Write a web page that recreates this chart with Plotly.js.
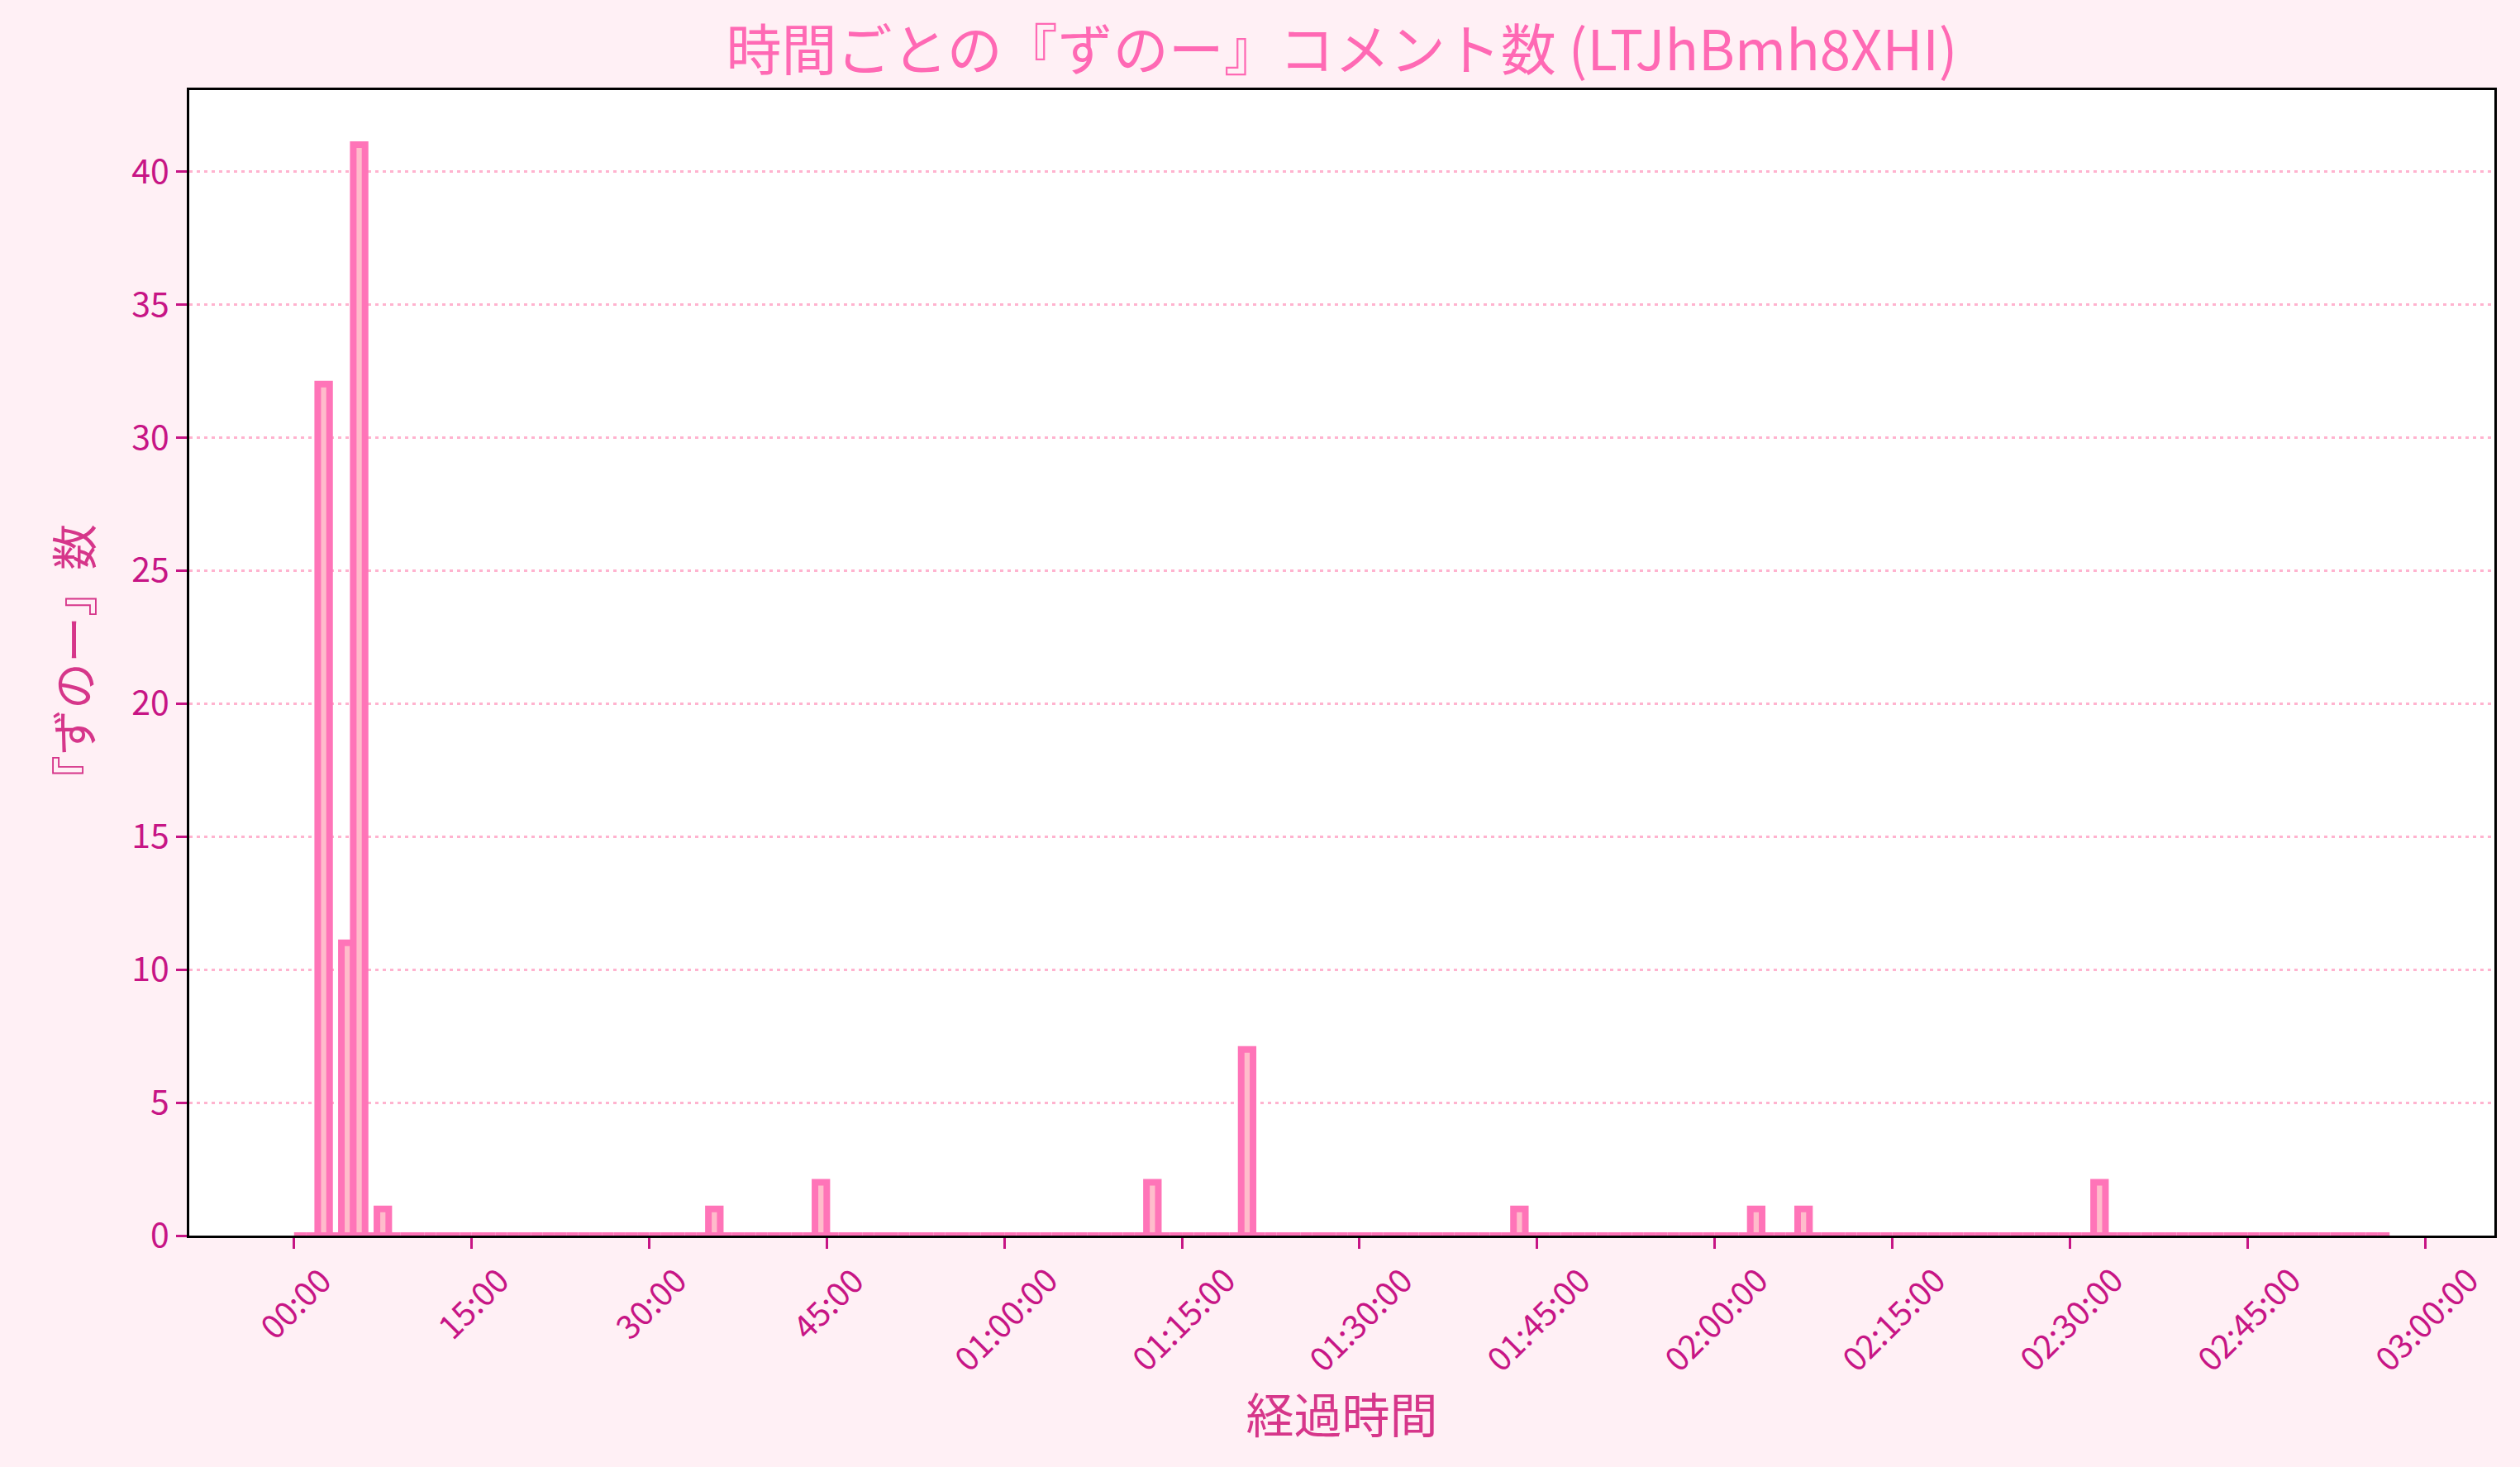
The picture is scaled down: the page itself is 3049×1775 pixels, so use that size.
<!DOCTYPE html>
<html>
<head>
<meta charset="utf-8">
<script src="https://cdn.plot.ly/plotly-3.0.1.min.js"></script>
<style>html,body{margin:0;padding:0;background:#fff0f5;}#chart{width:3049px;height:1775px;}</style>
</head>
<body>
<div id="chart"></div>
<script>
// 『ずのー』 comment counts per 1-minute bin, minutes 0..176
const counts = [
  0,0,32,0,11,41,0,1,0,0,0,0,0,0,0,      // 0-14
  0,0,0,0,0,0,0,0,0,0,0,0,0,0,0,         // 15-29
  0,0,0,0,0,1,0,0,0,0,0,0,0,0,2,         // 30-44
  0,0,0,0,0,0,0,0,0,0,0,0,0,0,0,         // 45-59
  0,0,0,0,0,0,0,0,0,0,0,0,2,0,0,         // 60-74
  0,0,0,0,0,7,0,0,0,0,0,0,0,0,0,         // 75-89
  0,0,0,0,0,0,0,0,0,0,0,0,0,1,0,         // 90-104
  0,0,0,0,0,0,0,0,0,0,0,0,0,0,0,         // 105-119
  0,0,0,1,0,0,0,1,0,0,0,0,0,0,0,         // 120-134
  0,0,0,0,0,0,0,0,0,0,0,0,0,0,0,         // 135-149
  0,0,2,0,0,0,0,0,0,0,0,0,0,0,0,         // 150-164
  0,0,0,0,0,0,0,0,0,0,0,0                // 165-176
];
const tickMinutes = [0,15,30,45,60,75,90,105,120,135,150,165,180];
const tickLabels = ["00:00","15:00","30:00","45:00","01:00:00","01:15:00","01:30:00","01:45:00","02:00:00","02:15:00","02:30:00","02:45:00","03:00:00"];
const yTicks = [0,5,10,15,20,25,30,35,40];

const chartTitle = "時間ごとの『ずのー』コメント数 (LTJhBmh8XHI)";
const xTitle = "経過時間";
const yTitle = "『ずのー』数";

const FONT = "Noto Sans CJK JP, Noto Sans, sans-serif";
const tickColor = "#c71585";

const trace = {
  type: "bar",
  y: counts,
  x0: 0.5,
  dx: 1,
  width: 1,
  marker: {color: "#ffbccb", line: {color: "#ff74b8", width: 8}},
  hoverinfo: "skip"
};

const annotations = tickMinutes.map((m, i) => ({
  x: m, xref: "x",
  y: 0, yref: "paper",
  yshift: -22,
  text: tickLabels[i],
  textangle: -45,
  showarrow: false,
  xanchor: "center",
  yanchor: "top",
  font: {family: FONT, size: 40, color: tickColor}
}));

const layout = {
  width: 3049, height: 1775,
  paper_bgcolor: "#fff0f5",
  plot_bgcolor: "#ffffff",
  margin: {l: 229, r: 31, t: 109, b: 280, pad: 0},
  showlegend: false,
  bargap: 0,
  font: {family: FONT},
  title: {
    text: chartTitle,
    font: {family: FONT, size: 67, color: "#ff69b4"},
    x: 0.5, xref: "paper", xanchor: "center",
    y: 1 - 62/1775, yref: "container", yanchor: "middle"
  },
  xaxis: {
    range: [-8.85, 185.85],
    tickmode: "array",
    tickvals: tickMinutes,
    showticklabels: false,
    ticks: "outside", ticklen: 13, tickwidth: 3, tickcolor: tickColor,
    showgrid: false, zeroline: false,
    showline: true, linecolor: "#000000", linewidth: 3, mirror: true,
    title: {text: xTitle, font: {family: FONT, size: 58, color: "#d6368a"}, standoff: 184}
  },
  yaxis: {
    range: [0, 43.05],
    tickmode: "array",
    tickvals: yTicks,
    ticktext: yTicks.map(String),
    tickfont: {family: FONT, size: 41, color: tickColor},
    ticks: "outside", ticklen: 13, tickwidth: 3, tickcolor: tickColor,
    showgrid: true, gridcolor: "#ffb3cf", gridwidth: 3, griddash: "4px,5px",
    zeroline: false,
    showline: true, linecolor: "#000000", linewidth: 3, mirror: true,
    title: {text: yTitle, font: {family: FONT, size: 56, color: "#d6368a"}, standoff: 30}
  },
  annotations: annotations
};

Plotly.newPlot("chart", [trace], layout, {staticPlot: true, displayModeBar: false});
</script>
</body>
</html>
